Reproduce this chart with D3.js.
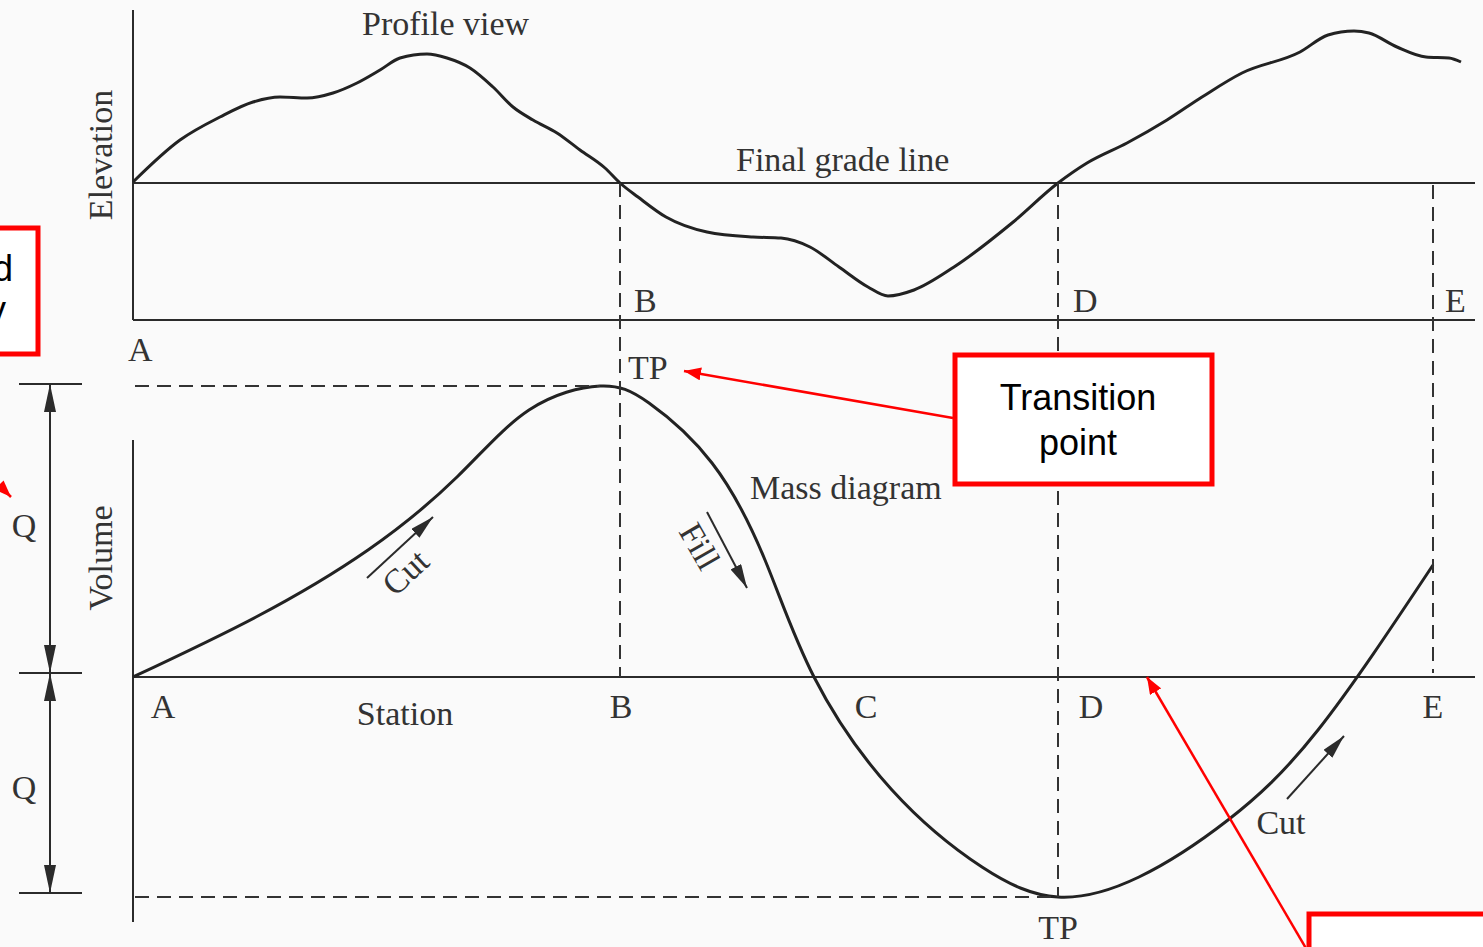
<!DOCTYPE html>
<html lang="en">
  <head>
    <meta charset="utf-8" />
    <title>Profile view and mass diagram</title>
    <script src="https://cdnjs.cloudflare.com/ajax/libs/d3/7.8.5/d3.min.js"></script>
    <style type="text/css">
      body {
        margin: 0;
        background: #fafafa;
      }
      .ink {
        fill: none;
        stroke: #2b2b2b;
        stroke-width: 2;
      }
      .curve {
        fill: none;
        stroke: #222;
        stroke-width: 3;
      }
      .dash {
        fill: none;
        stroke: #333;
        stroke-width: 2;
        stroke-dasharray: 14, 8;
      }
      .lbl {
        font-family: "Liberation Serif", "DejaVu Serif", serif;
        font-size: 34px;
        fill: #333;
      }
      .red {
        fill: #fff;
        stroke: #f00;
        stroke-width: 5;
      }
      .redline {
        stroke: #f00;
        stroke-width: 2.5;
      }
      .note {
        font-family: "Liberation Sans", Arial, sans-serif;
        font-size: 36px;
        fill: #000;
      }
    </style>
  </head>

  <body>
    <div id="chart"></div>

    <script>
      // station values (A = 0), elevation relative to the final grade line
      const profileStation = [
        0, 47, 87, 120, 147, 174, 200, 224, 247, 267, 294, 314, 337, 360, 380,
        400, 424, 447, 472, 487, 505, 533, 574, 620, 648, 677, 706, 735, 755,
        781, 821, 879, 925, 954, 994, 1034, 1069, 1109, 1167, 1195, 1221, 1236,
        1264, 1293, 1316, 1328,
      ];
      const profileElev = [
        1, 43, 66, 81, 86, 85, 90, 100, 113, 125, 129, 125, 115, 96, 76, 63, 50,
        33, 15, 0, -14, -34, -49, -54, -55, -64, -84, -104, -113, -107, -84,
        -40, 0, 20, 40, 63, 86, 110, 131, 148, 152, 150, 136, 126, 125, 121,
      ];

      // cumulative volume along the stations
      const massStation = [
        0, 123, 235, 324, 396, 467, 516, 579, 632, 681, 759, 849, 925, 1006,
        1095, 1185, 1300,
      ];
      const massVolume = [
        0, 60, 127, 200, 267, 291, 274, 214, 117, 0, -113, -190, -220, -200,
        -143, -53, 112,
      ];

      const stationNames = ["A", "B", "C", "D", "E"];
      const stationPos = [0, 487, 681, 925, 1300];
      const tpStation = [467, 925];
      const tpVolume = [291, -220];

      const width = 1483;
      const height = 947;

      const svg = d3
        .select("#chart")
        .append("svg")
        .attr("width", width)
        .attr("height", height);

      svg.append("rect").attr("width", width).attr("height", height).attr("fill", "#fafafa");

      const defs = svg.append("defs");
      function arrowMarker(id, color, w, h) {
        defs
          .append("marker")
          .attr("id", id)
          .attr("viewBox", `0 0 ${w} ${h}`)
          .attr("refX", w)
          .attr("refY", h / 2)
          .attr("markerWidth", w)
          .attr("markerHeight", h)
          .attr("markerUnits", "userSpaceOnUse")
          .attr("orient", "auto-start-reverse")
          .append("path")
          .attr("d", `M0,0L${w},${h / 2}L0,${h}Z`)
          .attr("fill", color);
      }
      arrowMarker("blk", "#2b2b2b", 24, 12);
      arrowMarker("dim", "#2b2b2b", 28, 12);
      arrowMarker("redArrow", "#f00", 17, 13);

      const x = d3.scaleLinear().domain([0, 1350]).range([133, 1483]);
      const yElev = d3.scaleLinear().domain([-137, 173]).range([320, 10]);
      const yVol = d3.scaleLinear().domain([-245, 237]).range([922, 440]);

      const xEnd = x.domain()[1] - 8;

      // ---------- profile view ----------
      const prof = svg.append("g");
      prof.append("line").attr("class", "ink")
        .attr("x1", x(0)).attr("x2", x(0))
        .attr("y1", yElev(173)).attr("y2", yElev(-137));
      prof.append("line").attr("class", "ink")
        .attr("x1", x(0)).attr("x2", x(xEnd))
        .attr("y1", yElev(-137)).attr("y2", yElev(-137));
      // final grade line
      prof.append("line").attr("class", "ink")
        .attr("x1", x(0)).attr("x2", x(xEnd))
        .attr("y1", yElev(0)).attr("y2", yElev(0));

      const profLine = d3
        .line()
        .curve(d3.curveMonotoneX)
        .x((d, i) => x(profileStation[i]))
        .y((d) => yElev(d));
      prof.append("path").attr("class", "curve").attr("d", profLine(profileElev));

      // ---------- mass diagram ----------
      const mass = svg.append("g");
      mass.append("line").attr("class", "ink")
        .attr("x1", x(0)).attr("x2", x(0))
        .attr("y1", yVol(237)).attr("y2", yVol(-245));
      mass.append("line").attr("class", "ink")
        .attr("x1", x(0)).attr("x2", x(xEnd))
        .attr("y1", yVol(0)).attr("y2", yVol(0));

      const massLine = d3
        .line()
        .curve(d3.curveNatural)
        .x((d, i) => x(massStation[i]))
        .y((d) => yVol(d));
      mass.append("path").attr("class", "curve").attr("d", massLine(massVolume));

      // dashed helpers: TP levels
      tpVolume.forEach((v, i) => {
        mass.append("line").attr("class", "dash")
          .attr("x1", x(2)).attr("x2", x(tpStation[i]))
          .attr("y1", yVol(v)).attr("y2", yVol(v));
      });

      // dashed verticals at B, D, E
      [
        [stationPos[1], 0, 0],
        [stationPos[3], 0, tpVolume[1]],
        [stationPos[4], -2, 4],
      ].forEach(([s, e, v]) => {
        svg.append("line").attr("class", "dash")
          .attr("x1", x(s)).attr("x2", x(s))
          .attr("y1", yElev(e)).attr("y2", yVol(v));
      });

      // ---------- labels ----------
      function label(txt, px, py, anchor, rot) {
        const t = svg.append("text").attr("class", "lbl")
          .attr("text-anchor", anchor || "start").text(txt);
        if (rot !== undefined) {
          t.attr("transform", `translate(${px},${py}) rotate(${rot})`);
        } else {
          t.attr("x", px).attr("y", py);
        }
        return t;
      }

      label("Profile view", x(229), 35);
      label("Final grade line", x(603), 171);
      label("Elevation", 112, 155, "middle", -90);
      label("Volume", 112, 558, "middle", -90);

      label(stationNames[0], x(-5), 361);
      label(stationNames[1], x(stationPos[1]) + 14, 312);
      label(stationNames[3], x(stationPos[3]) + 15, 312);
      label(stationNames[4], x(stationPos[4]) + 12, 312);
      label("TP", x(stationPos[1]) + 8, 379);
      label("Mass diagram", x(617), 499);

      const massLbl = [163, 621, 866, 1091, 1433];
      stationNames.forEach((n, i) => {
        label(n, massLbl[i], 718, "middle");
      });
      label("Station", 405, 725, "middle");
      label("TP", x(tpStation[1]), 939, "middle");
      label("Cut", 1281, 834, "middle");

      // cut / fill arrows
      svg.append("line").attr("class", "ink")
        .attr("x1", 367).attr("y1", 578).attr("x2", 433).attr("y2", 517)
        .attr("marker-end", "url(#blk)");
      label("Cut", 405, 572, "middle", -43).attr("dy", "0.35em");

      svg.append("line").attr("class", "ink")
        .attr("x1", 707).attr("y1", 512).attr("x2", 747).attr("y2", 588)
        .attr("marker-end", "url(#blk)");
      label("Fill", 700, 546, "middle", 60).attr("dy", "0.35em");

      svg.append("line").attr("class", "ink")
        .attr("x1", 1287).attr("y1", 799).attr("x2", 1344).attr("y2", 736)
        .attr("marker-end", "url(#blk)");

      // Q dimensions on the left
      [yVol(tpVolume[0]) - 2, yVol(0) - 4, yVol(tpVolume[1]) - 4].forEach((py) => {
        svg.append("line").attr("class", "ink")
          .attr("x1", 19).attr("x2", 82).attr("y1", py).attr("y2", py);
      });
      svg.append("line").attr("class", "ink")
        .attr("x1", 50).attr("x2", 50)
        .attr("y1", yVol(tpVolume[0]) - 2).attr("y2", yVol(0) - 4)
        .attr("marker-start", "url(#dim)").attr("marker-end", "url(#dim)");
      svg.append("line").attr("class", "ink")
        .attr("x1", 50).attr("x2", 50)
        .attr("y1", yVol(0) - 4).attr("y2", yVol(tpVolume[1]) - 4)
        .attr("marker-start", "url(#dim)").attr("marker-end", "url(#dim)");
      label("Q", 24, 537, "middle");
      label("Q", 24, 799, "middle");

      // ---------- red annotations ----------
      const note = svg.append("g");
      note.append("rect").attr("class", "red")
        .attr("x", -10).attr("y", 228).attr("width", 48).attr("height", 126);
      note.append("text").attr("class", "note").attr("text-anchor", "end")
        .attr("x", 13).attr("y", 281).text("Ground");
      note.append("text").attr("class", "note").attr("text-anchor", "end")
        .attr("x", 6).attr("y", 322).text("survey");
      note.append("line").attr("class", "redline")
        .attr("x1", -10).attr("y1", 476).attr("x2", 11).attr("y2", 497)
        .attr("marker-end", "url(#redArrow)");

      note.append("rect").attr("class", "red")
        .attr("x", 955).attr("y", 355).attr("width", 257).attr("height", 129);
      note.append("text").attr("class", "note").attr("text-anchor", "middle")
        .attr("x", 1078).attr("y", 410).text("Transition");
      note.append("text").attr("class", "note").attr("text-anchor", "middle")
        .attr("x", 1078).attr("y", 455).text("point");
      note.append("line").attr("class", "redline")
        .attr("x1", 953).attr("y1", 418).attr("x2", 684).attr("y2", 371)
        .attr("marker-end", "url(#redArrow)");

      note.append("rect").attr("class", "red")
        .attr("x", 1309).attr("y", 914).attr("width", 190).attr("height", 60);
      note.append("line").attr("class", "redline")
        .attr("x1", 1307).attr("y1", 950).attr("x2", 1147).attr("y2", 677)
        .attr("marker-end", "url(#redArrow)");
    </script>
  </body>
</html>
